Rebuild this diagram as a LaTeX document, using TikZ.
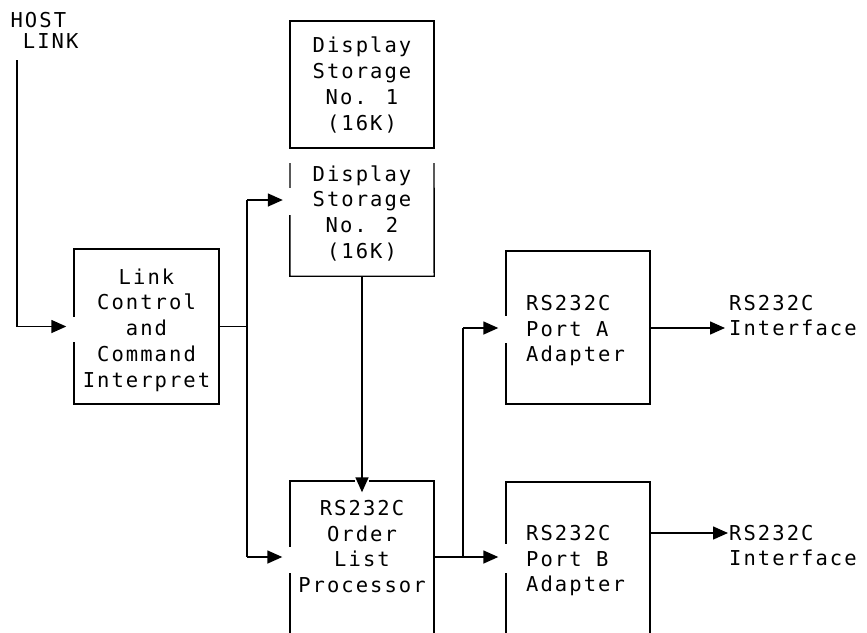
\documentclass[tikz,border=0pt]{standalone}
\usepackage{fontspec}
\newfontfamily\dfont[LetterSpace=10]{DejaVu Sans Mono}
\usetikzlibrary{arrows.meta,calc}
\begin{document}
\begin{tikzpicture}[x=1pt,y=-1pt,
  box/.style={draw, rectangle, inner sep=0pt, line width=1.4pt},
  hidden/.style={rectangle, inner sep=0pt},
  txt/.style={inner sep=0pt, font=\dfont\fontsize{20.5}{25.7}\selectfont},
  conn/.style={line width=1.5pt},
  arr/.style={conn, -{Triangle[length=15pt,width=13pt]}},
  gapfill/.style={fill=white}]
\useasboundingbox (0,0) rectangle (867,632);
\clip (0,0) rectangle (867,632);

% boxes
\node[box, minimum width=145pt, minimum height=155pt] (lc) at (146.5,326.5) {};
\node[box, minimum width=144pt, minimum height=127pt] (ds1) at (362,84.5) {};
\node[hidden, minimum width=144pt, minimum height=128pt] (ds2) at (362,212) {};
\coordinate (ds2tl) at (290,163);
\coordinate (ds2tr) at (434,163);
\draw[line width=1.4pt] (ds2tl) -- (ds2.south west) -- (ds2.south east) -- (ds2tr);
\node[box, minimum width=144pt, minimum height=169pt] (olp) at (362,565.5) {};
\node[box, minimum width=144pt, minimum height=153pt] (pa) at (578,327.5) {};
\node[box, minimum width=144pt, minimum height=168pt] (pb) at (578,566) {};

% breaks in the borders beside the arrowheads
\fill[gapfill] (72,317) rectangle (76,342);
\fill[gapfill] (288,188) rectangle (292,215);
\fill[gapfill] (288,547) rectangle (292,573);
\fill[gapfill] (355,479) rectangle (369,483);
\fill[gapfill] (504,316) rectangle (508,343);
\fill[gapfill] (504,544) rectangle (508,573);

% texts
\node[txt, align=left, anchor=west, font=\dfont\fontsize{20.5}{21}\selectfont] (host) at (10.4,30) {HOST\\\hphantom{H}LINK};
\node[txt, align=center] (lct) at (146.5,330) {Link\\Control\\and\\Command\\Interpret};
\node[txt, align=center] (ds1t) at (362,85) {Display\\Storage\\No. 1\\(16K)};
\node[txt, align=center] (ds2t) at (362,213.3) {Display\\Storage\\No. 2\\(16K)};
\node[txt, align=center] (olpt) at (362,546.4) {RS232C\\Order\\List\\Processor};
\node[txt, align=left, anchor=west] (pat) at (526,330.6) {RS232C\\Port A\\Adapter};
\node[txt, align=left, anchor=west] (pbt) at (526,560.6) {RS232C\\Port B\\Adapter};
\node[txt, align=left, anchor=west] (ia) at (729,315.4) {RS232C\\Interface};
\node[txt, align=left, anchor=west] (ib) at (729,545.4) {RS232C\\Interface};

% connector points
\coordinate (hl) at (17,60);
\coordinate (bj) at (247,326.5);
\coordinate (bt) at (247,200);
\coordinate (bb) at (247,557);
\coordinate (oj) at (463,557);
\coordinate (pj) at (463,328);
\coordinate (iat) at (725,328);
\coordinate (ibt) at (728,533);

% connectors
\draw[arr, shorten >=7pt] (hl) |- (lc.west);
\draw[conn] (lc.east) -- (bj);
\draw[conn] (bt) -- (bb);
\draw[arr, shorten >=7pt] (bt) -- (bt -| ds2.west);
\draw[arr, shorten >=7pt] (bb) -- (bb -| olp.west);
\draw[arr, shorten >=-12pt] (ds2.south) -- (olp.north);
\draw[conn] (olp.east |- oj) -- (oj);
\draw[arr, shorten >=7pt] (oj) -- (oj -| pb.west);
\draw[conn] (oj) -- (pj);
\draw[arr, shorten >=7pt] (pj) -- (pj -| pa.west);
\draw[arr] (pa.east |- iat) -- (iat);
\draw[arr] (pb.east |- ibt) -- (ibt);
\end{tikzpicture}
\end{document}
